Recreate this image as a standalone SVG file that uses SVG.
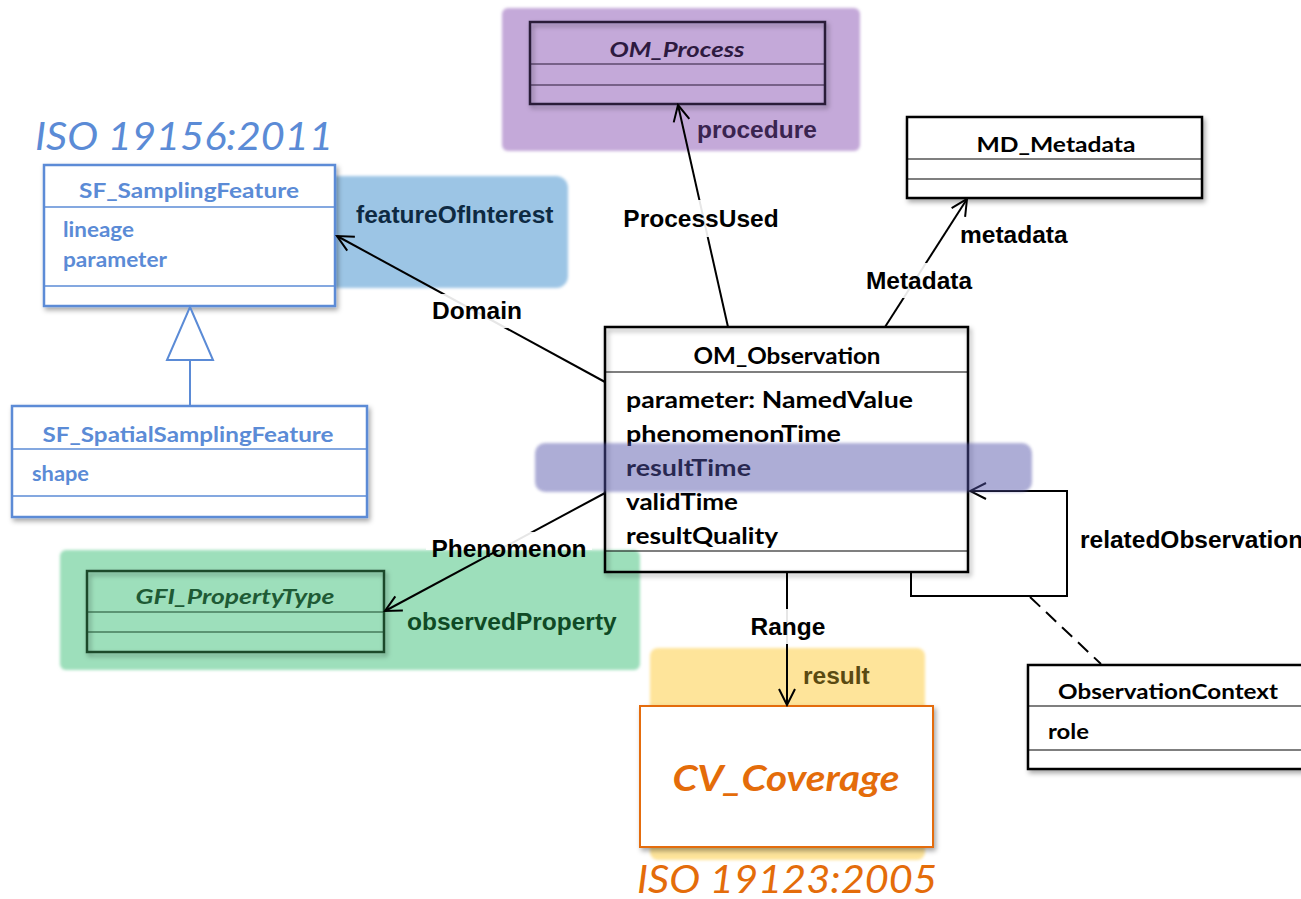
<svg xmlns="http://www.w3.org/2000/svg" width="1301" height="899" viewBox="0 0 1301 899">
<defs>
<style>
.cal{font-family:Lato,"Open Sans","Liberation Sans",sans-serif;font-weight:bold}
.lbl{font-family:"Liberation Sans",Arial,sans-serif;font-weight:bold;font-size:24.5px}
.box{fill:#fff;stroke:#000;stroke-width:2.5}
.div{stroke:#000;stroke-width:1.2}
.conn{stroke:#000;stroke-width:2;fill:none}
.lblbg{fill:#fff;opacity:0.9}
.bbox{fill:#fff;stroke:#5b8bd6;stroke-width:2.5}
.bdiv{stroke:#5b8bd6;stroke-width:1.5}
</style>
<filter id="sh" x="-10%" y="-10%" width="130%" height="140%">
<feDropShadow dx="2" dy="3" stdDeviation="2.5" flood-color="#000" flood-opacity="0.35"/>
</filter>
<filter id="soft" x="-5%" y="-5%" width="110%" height="110%">
<feGaussianBlur stdDeviation="1.5"/>
</filter>
<marker id="open" viewBox="0 0 20 20" refX="18" refY="10" markerWidth="20" markerHeight="20" markerUnits="userSpaceOnUse" orient="auto">
<path d="M2,2 L18,10 L2,18" fill="none" stroke="context-stroke" stroke-width="2"/>
</marker>
</defs>
<rect width="1301" height="899" fill="#fff"/>

<!-- coloured backgrounds -->
<g id="backgrounds" filter="url(#soft)">
<rect x="502" y="8" width="358" height="143" rx="6" fill="#c4a9d9"/>
<rect x="300" y="176" width="268" height="112" rx="12" fill="#9cc5e5"/>
<rect x="60" y="550" width="580" height="120" rx="6" fill="#9ddfbb"/>
<rect x="650" y="648" width="275" height="212" rx="8" fill="#fee49a"/>
</g>

<!-- ISO labels -->
<text x="35" y="150" font-family="Lato,'Open Sans',sans-serif" font-style="italic" font-size="39" fill="#5b8bd6" textLength="298" lengthAdjust="spacingAndGlyphs">ISO 19156:2011</text>
<text x="637" y="893" font-family="Lato,'Open Sans',sans-serif" font-style="italic" font-size="39" fill="#e46c0a" textLength="300" lengthAdjust="spacingAndGlyphs">ISO 19123:2005</text>

<!-- OM_Process -->
<g id="om-process">
<rect x="530" y="22" width="295" height="82" fill="none" stroke="#2a1a38" stroke-width="2.5" filter="url(#sh)"/>
<line x1="530" y1="64" x2="825" y2="64" stroke="#2a1a38" stroke-width="1.2"/>
<line x1="530" y1="85" x2="825" y2="85" stroke="#2a1a38" stroke-width="1.2"/>
<text x="677" y="57" text-anchor="middle" class="cal" font-style="italic" font-size="21" fill="#2d1a40" textLength="135" lengthAdjust="spacingAndGlyphs">OM_Process</text>
</g>

<!-- MD_Metadata -->
<g id="md-metadata">
<rect x="907" y="117" width="295" height="81" class="box" filter="url(#sh)"/>
<line x1="907" y1="159" x2="1202" y2="159" class="div"/>
<line x1="907" y1="179" x2="1202" y2="179" class="div"/>
<text x="1056" y="152" text-anchor="middle" class="cal" font-size="21" textLength="159" lengthAdjust="spacingAndGlyphs">MD_Metadata</text>
</g>

<!-- SF_SamplingFeature -->
<g id="sf-sampling-feature">
<rect x="44" y="165" width="291" height="141" class="bbox" filter="url(#sh)"/>
<line x1="44" y1="207" x2="335" y2="207" class="bdiv"/>
<line x1="44" y1="286" x2="335" y2="286" class="bdiv"/>
<text x="189" y="198" text-anchor="middle" class="cal" font-size="20" fill="#5b8bd6" textLength="220" lengthAdjust="spacingAndGlyphs">SF_SamplingFeature</text>
<text x="63" y="237" class="cal" font-size="20" fill="#5b8bd6" textLength="71" lengthAdjust="spacingAndGlyphs">lineage</text>
<text x="63" y="267" class="cal" font-size="20" fill="#5b8bd6" textLength="104" lengthAdjust="spacingAndGlyphs">parameter</text>
</g>

<!-- SF_SpatialSamplingFeature -->
<g id="sf-spatial-sampling-feature">
<rect x="12" y="406" width="355" height="111" class="bbox" filter="url(#sh)"/>
<line x1="12" y1="449" x2="367" y2="449" class="bdiv"/>
<line x1="12" y1="496" x2="367" y2="496" class="bdiv"/>
<text x="188" y="442" text-anchor="middle" class="cal" font-size="20" fill="#5b8bd6" textLength="291" lengthAdjust="spacingAndGlyphs">SF_SpatialSamplingFeature</text>
<text x="32" y="481" class="cal" font-size="20" fill="#5b8bd6" textLength="57" lengthAdjust="spacingAndGlyphs">shape</text>
</g>

<!-- GFI_PropertyType -->
<g id="gfi-property-type">
<rect x="87" y="571" width="297" height="81" fill="none" stroke="#1a4a2c" stroke-width="2.5" filter="url(#sh)"/>
<line x1="87" y1="612" x2="384" y2="612" stroke="#1a4a2c" stroke-width="1.2"/>
<line x1="87" y1="632" x2="384" y2="632" stroke="#1a4a2c" stroke-width="1.2"/>
<text x="235" y="604" text-anchor="middle" class="cal" font-style="italic" font-size="20" fill="#1e5a35" textLength="199" lengthAdjust="spacingAndGlyphs">GFI_PropertyType</text>
</g>

<!-- OM_Observation -->
<g id="om-observation">
<rect x="605" y="327" width="363" height="245" class="box" style="fill:none" filter="url(#sh)"/>
<line x1="605" y1="372" x2="968" y2="372" class="div"/>
<line x1="605" y1="551" x2="968" y2="551" class="div"/>
<text x="787" y="364" text-anchor="middle" class="cal" font-size="22" textLength="187" lengthAdjust="spacingAndGlyphs">OM_Observation</text>
<text x="626" y="408" class="cal" font-size="22" textLength="287" lengthAdjust="spacingAndGlyphs">parameter: NamedValue</text>
<text x="626" y="442" class="cal" font-size="22" textLength="215" lengthAdjust="spacingAndGlyphs">phenomenonTime</text>
<text x="626" y="476" class="cal" font-size="22" textLength="125" lengthAdjust="spacingAndGlyphs">resultTime</text>
<text x="626" y="510" class="cal" font-size="22" textLength="112" lengthAdjust="spacingAndGlyphs">validTime</text>
<text x="626" y="544" class="cal" font-size="22" textLength="152" lengthAdjust="spacingAndGlyphs">resultQuality</text>
</g>

<!-- CV_Coverage -->
<g id="cv-coverage">
<rect x="640" y="706" width="293" height="141" fill="#fff" stroke="#e46c0a" stroke-width="2" filter="url(#sh)"/>
<text x="786" y="791" text-anchor="middle" class="cal" font-style="italic" font-size="37" fill="#e46c0a" textLength="227" lengthAdjust="spacingAndGlyphs">CV_Coverage</text>
</g>

<!-- ObservationContext -->
<g id="observation-context">
<rect x="1028" y="665" width="290" height="104" class="box" filter="url(#sh)"/>
<line x1="1028" y1="706" x2="1318" y2="706" class="div"/>
<line x1="1028" y1="750" x2="1318" y2="750" class="div"/>
<text x="1058" y="699" class="cal" font-size="21" textLength="220" lengthAdjust="spacingAndGlyphs">ObservationContext</text>
<text x="1048" y="739" class="cal" font-size="21" textLength="41" lengthAdjust="spacingAndGlyphs">role</text>
</g>

<!-- connectors -->
<g id="connectors">
<line x1="728" y1="327" x2="678" y2="105" class="conn" marker-end="url(#open)"/>
<line x1="885" y1="327" x2="967" y2="199" class="conn" marker-end="url(#open)"/>
<line x1="605" y1="382" x2="337" y2="236" class="conn" marker-end="url(#open)"/>
<line x1="605" y1="493" x2="385" y2="611" class="conn" stroke="#0f3a20" marker-end="url(#open)"/>
<line x1="787" y1="572" x2="787" y2="705" class="conn" marker-end="url(#open)"/>
<polyline points="911,572 911,596 1067,596 1067,491 970,491" class="conn" marker-end="url(#open)"/>
<line x1="1030" y1="597" x2="1101" y2="664" class="conn" stroke-dasharray="14,8"/>
<!-- generalization -->
<line x1="190" y1="360" x2="190" y2="406" stroke="#5b8bd6" stroke-width="2"/>
<polygon points="190,307 213,360 167,360" fill="#fff" stroke="#5b8bd6" stroke-width="2"/>
</g>

<!-- association labels -->
<g id="labels">
<rect x="616" y="200" width="172" height="37" class="lblbg"/>
<text x="701" y="227" text-anchor="middle" class="lbl">ProcessUsed</text>
<rect x="856" y="263" width="125" height="35" class="lblbg"/>
<text x="919" y="289" text-anchor="middle" class="lbl">Metadata</text>
<rect x="424" y="294" width="106" height="34" class="lblbg"/>
<text x="477" y="319" text-anchor="middle" class="lbl">Domain</text>
<rect x="426" y="532" width="166" height="18" class="lblbg"/>
<text x="509" y="557" text-anchor="middle" class="lbl">Phenomenon</text>
<rect x="744" y="609" width="88" height="35" class="lblbg"/>
<text x="788" y="635" text-anchor="middle" class="lbl">Range</text>
<text x="697" y="138" class="lbl" fill="#3a2450">procedure</text>
<text x="960" y="243" class="lbl">metadata</text>
<text x="356" y="223" class="lbl" fill="#0e2a42">featureOfInterest</text>
<text x="407" y="630" class="lbl" fill="#0f4a25">observedProperty</text>
<text x="803" y="684" class="lbl" fill="#5a4a12">result</text>
<text x="1080" y="548" class="lbl">relatedObservation</text>
</g>

<!-- resultTime highlight band -->
<rect x="535" y="443" width="497" height="49" rx="10" fill="#5555aa" opacity="0.48" filter="url(#soft)"/>
</svg>
